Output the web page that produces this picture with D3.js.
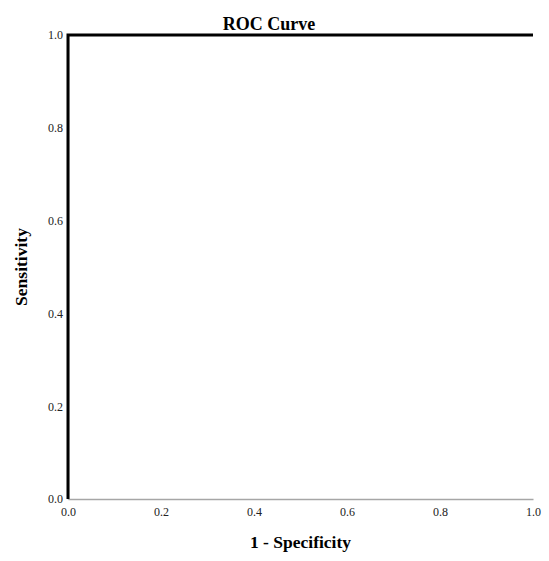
<!DOCTYPE html>
<html>
<head>
<meta charset="utf-8">
<script src="https://cdn.jsdelivr.net/npm/d3@7"></script>
<style>
  html, body { margin: 0; padding: 0; background: #fff; }
  svg { display: block; font-family: "Liberation Serif", "Times New Roman", serif; }
</style>
</head>
<body>
<svg id="chart" width="549" height="561"></svg>
<script>
// ROC curve points (1 - specificity, sensitivity)
const fpr = [0, 0, 1];
const tpr = [0, 1, 1];
const xTicks = [0, 0.2, 0.4, 0.6, 0.8, 1.0];
const yTicks = [0, 0.2, 0.4, 0.6, 0.8, 1.0];

const svg = d3.select("#chart");
const margin = { left: 68, right: 16, top: 35, bottom: 62 };
const W = 549, H = 561;

const x = d3.scaleLinear().domain([0, 1]).range([margin.left, W - margin.right]);
const y = d3.scaleLinear().domain([0, 1]).range([H - margin.bottom, margin.top]);

// axes (no tick marks, grey baseline)
const xAxis = svg.append("g")
  .attr("transform", `translate(0,${y(0)})`)
  .call(d3.axisBottom(x).tickValues(xTicks).tickFormat(d3.format(".1f")).tickSize(0).tickPadding(8));
const yAxis = svg.append("g")
  .attr("transform", `translate(${x(0)},0)`)
  .call(d3.axisLeft(y).tickValues(yTicks).tickFormat(d3.format(".1f")).tickSize(0).tickPadding(5));

[xAxis, yAxis].forEach(g => {
  g.attr("font-family", null).attr("font-size", null);
  g.select(".domain").attr("stroke", "#a6a6a6").attr("stroke-width", 1.5);
  g.selectAll("text").attr("font-family", "Liberation Serif, serif").attr("font-size", 12).attr("fill", "#222");
});

// curve
const pts = fpr.map((f, i) => [f, tpr[i]]);
svg.append("path")
  .datum(pts)
  .attr("fill", "none")
  .attr("stroke", "#000")
  .attr("stroke-width", 3)
  .attr("stroke-linejoin", "miter")
  .attr("d", d3.line().x(d => x(d[0])).y(d => y(d[1])));

// titles
svg.append("text")
  .attr("x", 269).attr("y", 30)
  .attr("text-anchor", "middle")
  .attr("font-weight", "bold").attr("font-size", 18)
  .text("ROC Curve");

svg.append("text")
  .attr("x", (x(0) + x(1)) / 2).attr("y", 548)
  .attr("text-anchor", "middle")
  .attr("font-weight", "bold").attr("font-size", 17.5)
  .text("1 - Specificity");

svg.append("text")
  .attr("transform", `translate(27,${(y(0) + y(1)) / 2}) rotate(-90)`)
  .attr("text-anchor", "middle")
  .attr("font-weight", "bold").attr("font-size", 17.5)
  .text("Sensitivity");
</script>
</body>
</html>
